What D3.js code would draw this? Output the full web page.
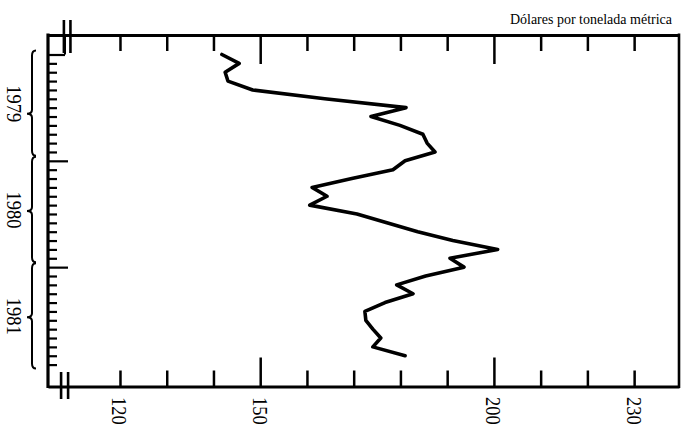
<!DOCTYPE html>
<html>
<head>
<meta charset="utf-8">
<script src="https://cdn.jsdelivr.net/npm/d3@7/dist/d3.min.js"></script>
<style>
  html, body { margin: 0; padding: 0; background: #fff; }
  svg { display: block; }
  text { font-family: "Liberation Serif", "DejaVu Serif", serif; fill: #000; }
</style>
</head>
<body>
<svg id="chart" width="685" height="434"></svg>
<script>
// ---- Data ----
const years = ["1979", "1980", "1981"];
const months = [
  "1979-01","1979-02","1979-03","1979-04","1979-05","1979-06","1979-07","1979-08","1979-09","1979-10","1979-11","1979-12",
  "1980-01","1980-02","1980-03","1980-04","1980-05","1980-06","1980-07","1980-08","1980-09","1980-10","1980-11","1980-12",
  "1981-01","1981-02","1981-03","1981-04","1981-05","1981-06","1981-07","1981-08","1981-09","1981-10","1981-11","1981-12"
];
// price, dollars per metric ton (Jan 1979 - Nov 1981)
const prices = [
  141.8, 145.5, 142.5, 143.1, 148.4, 163.8, 181.2, 173.7, 179.9, 184.8, 185.7, 187.4,
  181.0, 178.4, 169.6, 161.1, 164.3, 160.6, 170.7, 177.1, 183.7, 191.2, 200.8, 190.6,
  193.6, 185.4, 179.2, 182.7, 176.7, 172.4, 172.6, 174.1, 175.8, 174.1, 181.0
];
const priceTicks = [120, 130, 140, 150, 160, 170, 180, 190, 200, 210, 220, 230];
const priceLabels = [120, 150, 200, 230];
const majorTicks = [150, 200];
const title = "Dólares por tonelada métrica";

// ---- Layout ----
const svg = d3.select("#chart");
const mTop = 35, mBottom = 386.5, mLeft = 48, mRight = 679;

const x = d3.scaleLinear().domain([104.6, 239.6]).range([mLeft, mRight]);
const y = d3.scaleLinear().domain([0, 36]).range([54.5, 54.5 + 36 * 8.86]);

const g = svg.append("g");

// top axis (ticks downward)
const topAxis = g.append("g")
  .attr("transform", `translate(0,${mTop})`)
  .call(d3.axisBottom(x).tickValues(priceTicks).tickSize(16).tickSizeOuter(0).tickFormat(""));
// bottom axis (ticks upward)
const botAxis = g.append("g")
  .attr("transform", `translate(0,${mBottom})`)
  .call(d3.axisTop(x).tickValues(priceTicks).tickSize(16).tickSizeOuter(0).tickFormat(""));

topAxis.selectAll(".tick line").attr("y2", d => majorTicks.includes(d) ? 29 : 16);
botAxis.selectAll(".tick line").attr("y2", d => majorTicks.includes(d) ? -29 : -16);
[topAxis, botAxis].forEach(a => {
  a.select(".domain").attr("stroke", "#000").attr("stroke-width", 3);
  a.selectAll(".tick line").attr("stroke", "#000").attr("stroke-width", 2.5);
});

// left time axis
const monthIdx = months.map((m, i) => i);
const leftAxis = g.append("g")
  .attr("transform", `translate(${mLeft},0)`)
  .call(d3.axisRight(y).tickValues(monthIdx).tickSize(9).tickSizeOuter(0).tickFormat(""));
leftAxis.select(".domain").remove();
leftAxis.selectAll(".tick line")
  .attr("stroke", "#000").attr("stroke-width", 2.2)
  .attr("x2", (d) => d === 0 ? 17 : (d % 12 === 0 ? 20 : 9));

// frame verticals
g.append("line").attr("x1", mLeft).attr("x2", mLeft).attr("y1", mTop - 1.5).attr("y2", mBottom + 1.5)
  .attr("stroke", "#000").attr("stroke-width", 3.2);
g.append("line").attr("x1", mRight).attr("x2", mRight).attr("y1", mTop - 1.5).attr("y2", mBottom + 1.5)
  .attr("stroke", "#000").attr("stroke-width", 2.6);

// small corner box
g.append("line").attr("x1", mLeft + 17).attr("x2", mLeft + 17).attr("y1", mTop).attr("y2", y(0))
  .attr("stroke", "#000").attr("stroke-width", 2);

// axis break marks
[[108.0, 20, 53], [109.4, 20, 53], [107.4, 372, 399], [108.9, 372, 399]].forEach(([v, y1, y2]) => {
  g.append("line").attr("x1", x(v)).attr("x2", x(v)).attr("y1", y1).attr("y2", y2)
    .attr("stroke", "#000").attr("stroke-width", 2.6);
});

// year braces
years.forEach((yr, k) => {
  const t = y(12 * k) - 4, b = y(12 * k + 12) - 5, m = y(12 * k + 6) + (k === 0 ? 6 : -3);
  const bx = 32;
  const p = `M ${bx + 4},${t} Q ${bx},${t} ${bx},${t + 5} L ${bx},${m - 4} Q ${bx},${m} ${bx - 5},${m} ` +
            `Q ${bx},${m} ${bx},${m + 4} L ${bx},${b - 5} Q ${bx},${b} ${bx + 4},${b}`;
  g.append("path").attr("d", p).attr("fill", "none").attr("stroke", "#000").attr("stroke-width", 2);
  g.append("text")
    .attr("transform", `translate(15,${y(12 * k + 6) - 4}) rotate(90) scale(1,1.18)`)
    .attr("text-anchor", "middle").attr("dominant-baseline", "central")
    .style("font-size", "18.5px")
    .text(yr);
});

// bottom labels
priceLabels.forEach(v => {
  g.append("text")
    .attr("transform", `translate(${x(v)},397) rotate(90) scale(1,1.18)`)
    .attr("text-anchor", "start").attr("dominant-baseline", "central")
    .style("font-size", "18.5px")
    .text(v);
});

// title
g.append("text").attr("x", 672).attr("y", 24).attr("text-anchor", "end")
  .style("font-size", "14px").text(title);

// price line
const line = d3.line().x(d => x(d)).y((d, i) => y(i));
g.append("path").datum(prices)
  .attr("d", line)
  .attr("fill", "none").attr("stroke", "#000").attr("stroke-width", 3.6)
  .attr("stroke-linejoin", "round").attr("stroke-linecap", "round");
</script>
</body>
</html>
